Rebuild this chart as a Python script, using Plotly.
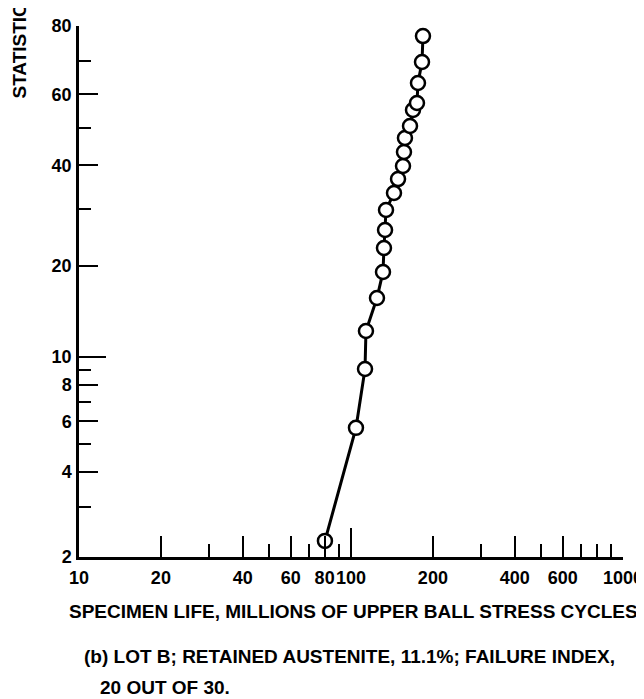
import numpy as np
import plotly.graph_objects as go

# ---- data ----
life_millions = [80.2, 104.3, 112.6, 113.5, 124.6, 131.1, 132.2, 133.4, 134.5, 143.9,
                 148.9, 155.3, 156.6, 157.9, 164.8, 169.0, 174.8, 176.3, 182.4, 183.9]
percent_failed = [2.28, 5.69, 9.08, 12.21, 15.71, 19.09, 22.75, 25.87, 29.74, 33.38,
                  36.6, 39.79, 43.42, 47.22, 50.62, 55.29, 57.38, 63.42, 69.76, 77.27]

x_major = [10, 20, 40, 60, 80, 100, 200, 400, 600, 1000]
x_major_text = ["10", "20", "40", "60", "80", "100", "200", "400", "600", "1000"]
x_minor = [30, 50, 70, 90, 300, 500, 700, 800, 900]
x_decade = [100, 1000]

y_major = [2, 4, 6, 8, 10, 20, 40, 60, 80]
y_major_text = ["2", "4", "6", "8", "10", "20", "40", "60", "80"]
y_minor = [3, 5, 7, 9, 30, 50, 70]
y_long = [10]


def weib(p):
    p = np.asarray(p, dtype=float) / 100.0
    return np.log(-np.log(1.0 - p))


FONT = "Liberation Sans, Arial, sans-serif"

y_w = weib(percent_failed)
y_range = [float(weib(2)), float(weib(80))]

fig = go.Figure()
fig.add_trace(go.Scatter(
    x=life_millions, y=y_w, mode="lines+markers",
    line=dict(color="black", width=3),
    marker=dict(symbol="circle", size=14, color="white",
                line=dict(color="black", width=2.5)),
    showlegend=False, hoverinfo="skip", cliponaxis=False,
))
# invisible helper traces to activate the overlay axes
fig.add_trace(go.Scatter(x=life_millions, y=y_w, mode="markers", xaxis="x2", yaxis="y",
                         marker=dict(opacity=0), showlegend=False, hoverinfo="skip"))
fig.add_trace(go.Scatter(x=life_millions, y=y_w, mode="markers", xaxis="x", yaxis="y2",
                         marker=dict(opacity=0), showlegend=False, hoverinfo="skip"))

tickfont = dict(family=FONT, size=18, color="black", weight="bold")

fig.update_layout(
    width=636, height=691,
    margin=dict(l=71, r=21, t=18, b=142, autoexpand=False),
    paper_bgcolor="white", plot_bgcolor="white",
    xaxis=dict(
        type="log", range=[1, 3], showgrid=False, zeroline=False, automargin=False,
        showline=True, linecolor="black", linewidth=2.5,
        tickmode="array", tickvals=x_major, ticktext=x_major_text, tickangle=0,
        ticks="inside", ticklen=21, tickwidth=2, tickcolor="black",
        tickfont=tickfont, ticklabelstandoff=3,
        minor=dict(tickmode="array", tickvals=x_minor, ticks="inside",
                   ticklen=13, tickwidth=2, tickcolor="black", showgrid=False),
    ),
    xaxis2=dict(
        type="log", range=[1, 3], overlaying="x", anchor="y", side="bottom",
        showgrid=False, zeroline=False, showline=False, automargin=False,
        tickmode="array", tickvals=x_decade, showticklabels=False,
        ticks="inside", ticklen=29, tickwidth=2, tickcolor="black",
    ),
    yaxis=dict(
        range=y_range, showgrid=False, zeroline=False, automargin=False,
        showline=True, linecolor="black", linewidth=2.5,
        tickmode="array", tickvals=list(weib(y_major)), ticktext=y_major_text,
        ticks="inside", ticklen=19, tickwidth=2, tickcolor="black",
        tickfont=tickfont, ticklabelstandoff=1,
        minor=dict(tickmode="array", tickvals=list(weib(y_minor)), ticks="inside",
                   ticklen=12, tickwidth=2, tickcolor="black", showgrid=False),
    ),
    yaxis2=dict(
        range=y_range, overlaying="y", anchor="x", side="left",
        showgrid=False, zeroline=False, showline=False, automargin=False,
        tickmode="array", tickvals=list(weib(y_long)), showticklabels=False,
        ticks="inside", ticklen=27, tickwidth=2, tickcolor="black",
    ),
)

ann_font = dict(family=FONT, color="black", weight="bold")
fig.add_annotation(text="SPECIMEN LIFE, MILLIONS OF UPPER BALL STRESS CYCLES",
                   xref="paper", yref="paper", x=0.505, y=-0.1017,
                   xanchor="center", yanchor="middle", showarrow=False,
                   font=dict(size=19, **ann_font))
fig.add_annotation(text="(b) LOT B; RETAINED AUSTENITE, 11.1%; FAILURE INDEX,",
                   xref="paper", yref="paper", x=0.0055, y=-0.1883,
                   xanchor="left", yanchor="middle", showarrow=False,
                   font=dict(size=19, **ann_font))
fig.add_annotation(text="20 OUT OF 30.",
                   xref="paper", yref="paper", x=0.0349, y=-0.2467,
                   xanchor="left", yanchor="middle", showarrow=False,
                   font=dict(size=19, **ann_font))
fig.add_annotation(text="STATISTICAL PERCENT FAILED",
                   xref="paper", yref="paper", x=-0.1085, y=0.8606,
                   xanchor="center", yanchor="bottom", textangle=-90,
                   showarrow=False, font=dict(size=19, **ann_font))

fig.write_html("out.html")
